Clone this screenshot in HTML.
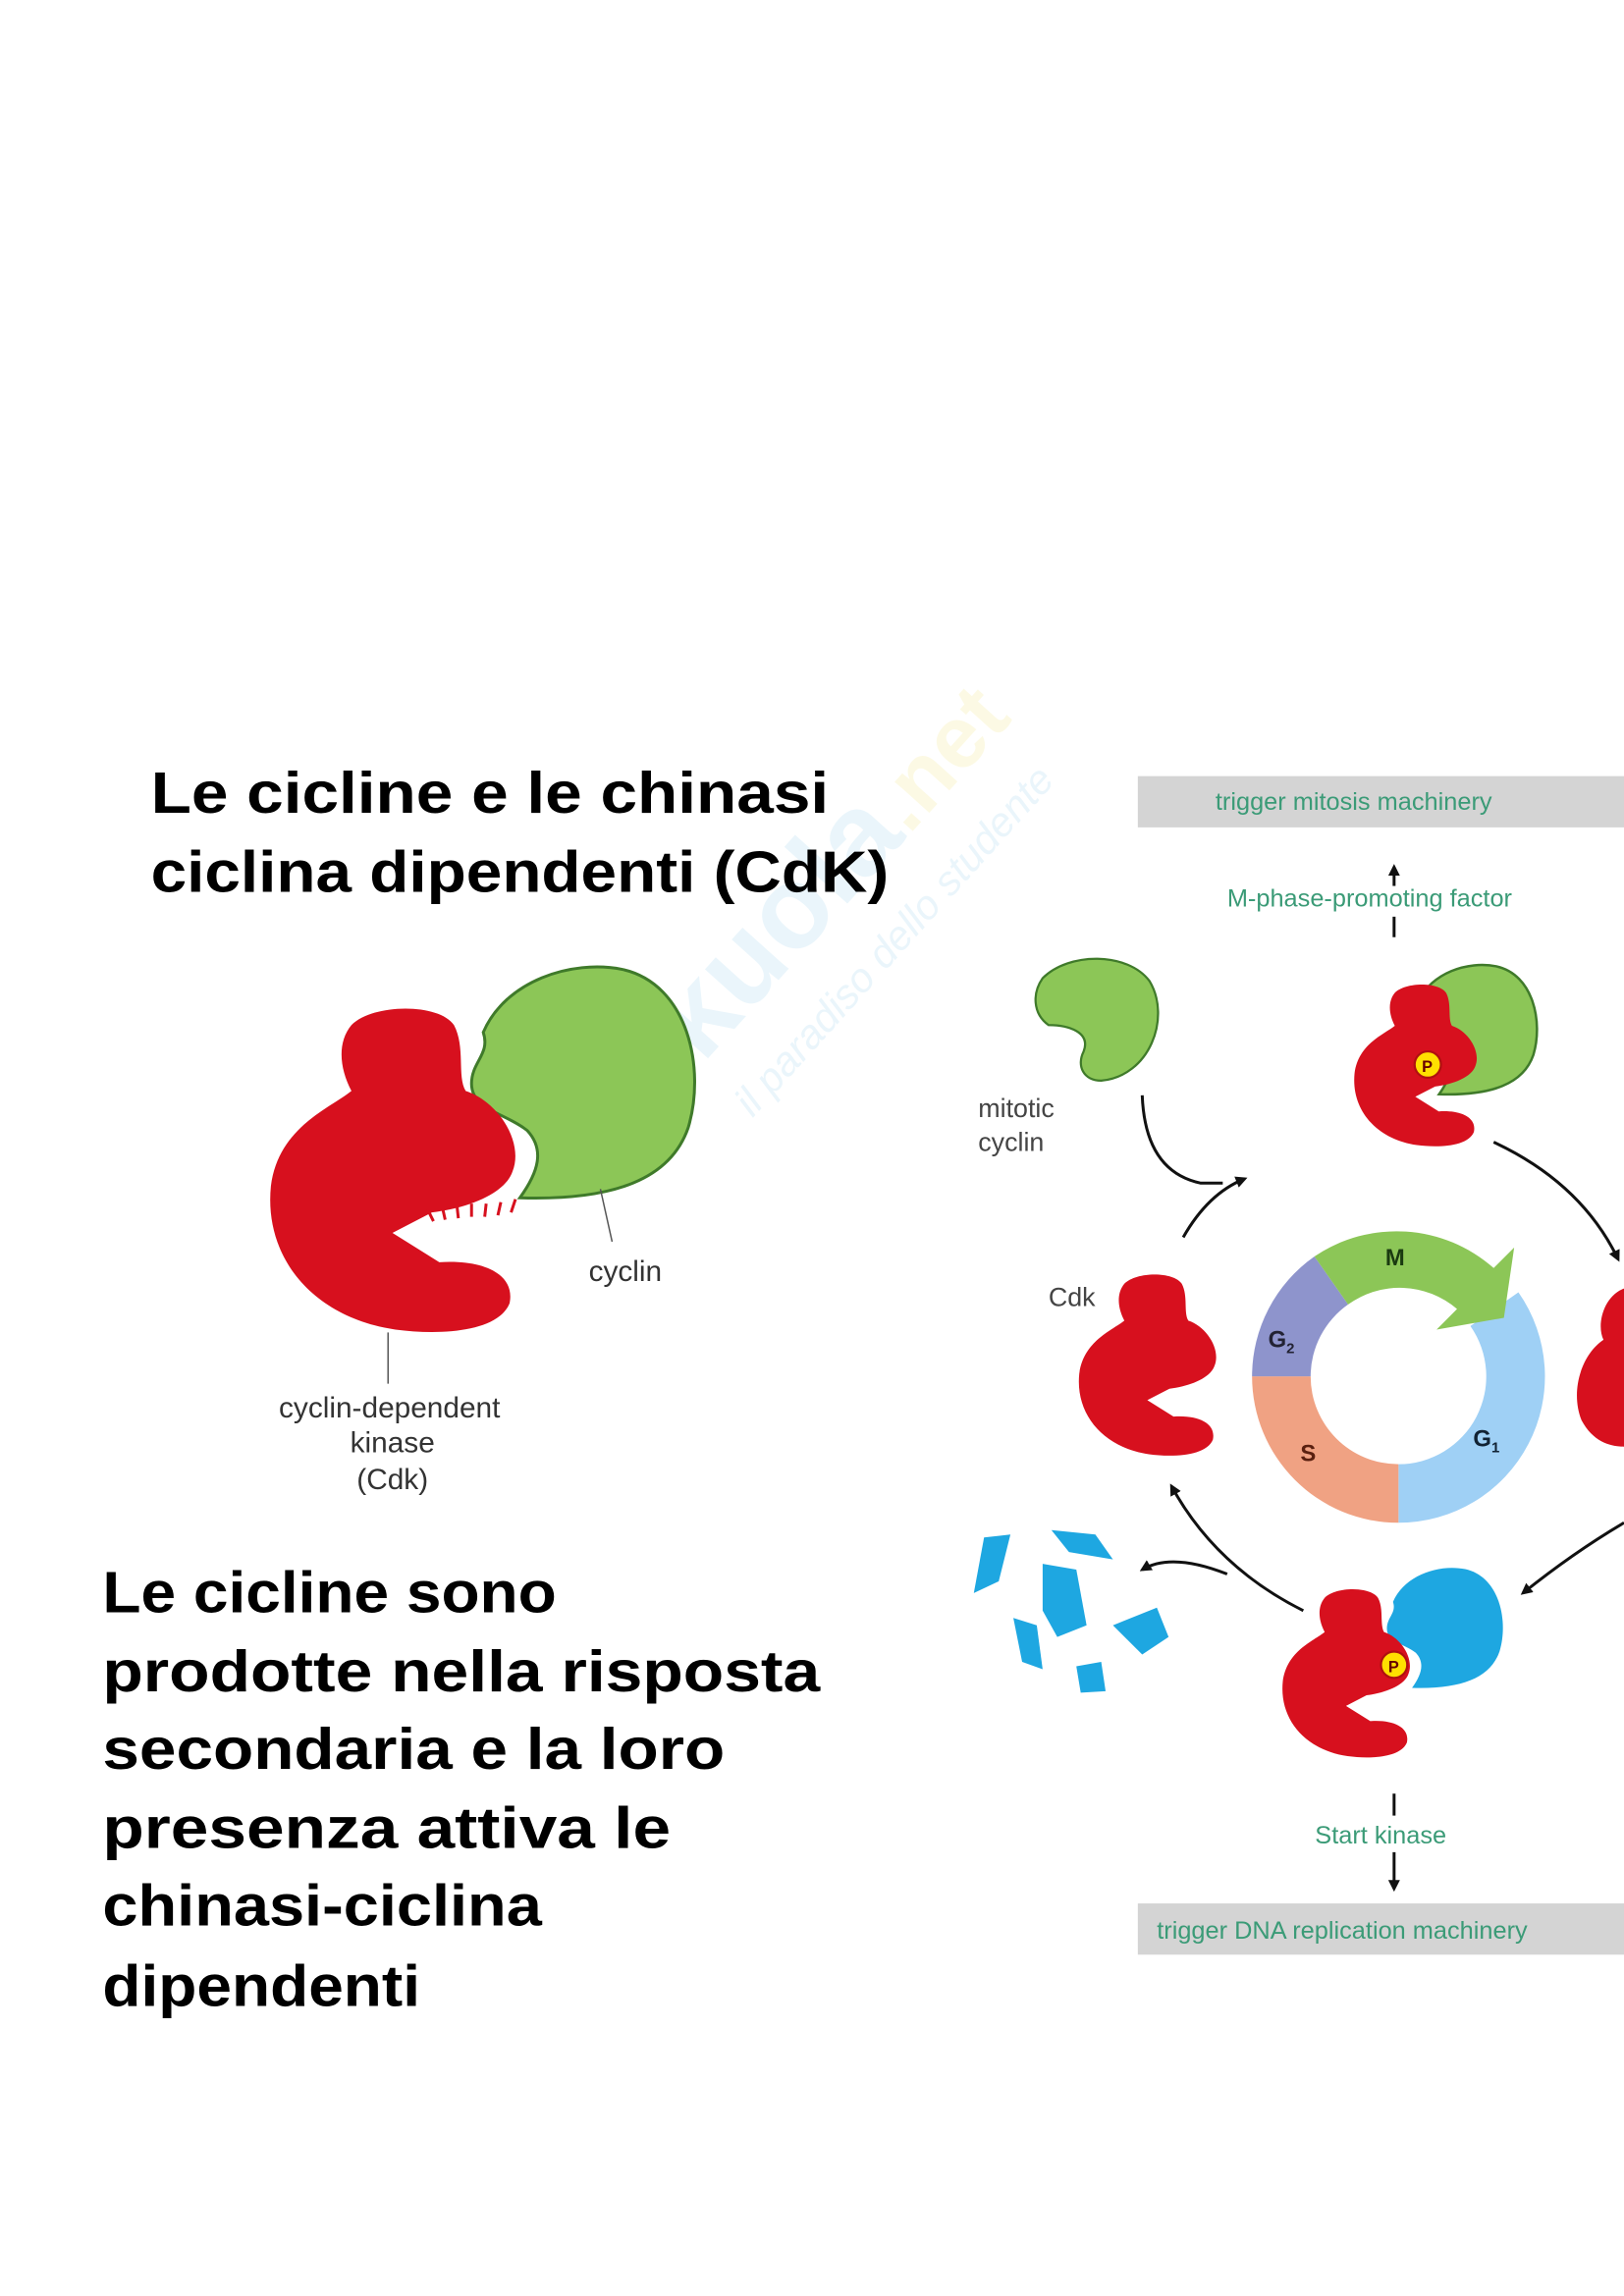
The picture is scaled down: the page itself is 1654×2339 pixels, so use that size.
<!DOCTYPE html>
<html><head><meta charset="utf-8">
<style>
html,body{margin:0;padding:0;background:#fff;}
svg{display:block;}
</style></head>
<body>
<svg width="1654" height="2339" viewBox="0 0 1109 1568" xmlns="http://www.w3.org/2000/svg">
<defs>
<marker id="ah" markerWidth="8" markerHeight="8" refX="6" refY="4" orient="auto" markerUnits="userSpaceOnUse">
<path d="M0,0 L8,4 L0,8 Z" fill="#111"/></marker>
<path id="cdk" d="M240 700 C255 685,300 685,310 700 C318 715,312 735,318 745 C340 752,358 780,350 800 C345 815,320 825,295 828 L268 842 L300 862 C330 860,352 870,348 890 C340 910,300 912,270 908 C215 900,180 860,185 810 C190 770,225 757,240 745 C232 730,230 712,240 700 Z"/>
<path id="cyc" d="M330 705 C345 670,390 655,425 662 C470 672,482 730,470 770 C458 805,420 820,355 818 C368 800,372 785,360 772 C345 760,322 758,322 740 C322 725,335 720,330 705 Z"/>
</defs>

<!-- watermark -->
<g transform="translate(450,760) rotate(-48)" opacity="0.16">
<text x="0" y="0" font-family="Liberation Sans, sans-serif" font-size="80" font-weight="bold" fill="#7fc6e8">skuola</text>
<text x="255" y="0" font-family="Liberation Sans, sans-serif" font-size="60" font-weight="bold" fill="#f0e060">.net</text>
<text x="40" y="50" font-family="Liberation Sans, sans-serif" font-size="28" font-style="italic" fill="#7fc6e8">il paradiso dello studente</text>
</g>

<!-- Titles -->
<g font-family="Liberation Sans, sans-serif" font-weight="bold" fill="#000">
<text x="103" y="555" font-size="40" textLength="463" lengthAdjust="spacingAndGlyphs">Le cicline e le chinasi</text>
<text x="103" y="609" font-size="40" textLength="504" lengthAdjust="spacingAndGlyphs">ciclina dipendenti (CdK)</text>
<text x="70" y="1101" font-size="40" textLength="310" lengthAdjust="spacingAndGlyphs">Le cicline sono</text>
<text x="70" y="1155" font-size="40" textLength="490" lengthAdjust="spacingAndGlyphs">prodotte nella risposta</text>
<text x="70" y="1208" font-size="40" textLength="425" lengthAdjust="spacingAndGlyphs">secondaria e la loro</text>
<text x="70" y="1262" font-size="40" textLength="388" lengthAdjust="spacingAndGlyphs">presenza attiva le</text>
<text x="70" y="1315" font-size="40" textLength="300" lengthAdjust="spacingAndGlyphs">chinasi-ciclina</text>
<text x="70" y="1370" font-size="40" textLength="217" lengthAdjust="spacingAndGlyphs">dipendenti</text>
</g>

<!-- Left diagram -->
<use href="#cyc" fill="#8cc657" stroke="#3f7a2a" stroke-width="2"/>
<use href="#cdk" fill="#d7101e"/>
<g stroke="#d7101e" stroke-width="2">
<line x1="292" y1="826" x2="296" y2="834"/><line x1="302" y1="824" x2="304" y2="833"/><line x1="312" y1="823" x2="313" y2="832"/><line x1="322" y1="822" x2="322" y2="831"/><line x1="332" y1="822" x2="331" y2="831"/><line x1="342" y1="821" x2="340" y2="830"/><line x1="352" y1="819" x2="349" y2="828"/>
</g>
<line x1="410" y1="812" x2="418" y2="848" stroke="#555" stroke-width="1"/>
<line x1="265" y1="910" x2="265" y2="945" stroke="#555" stroke-width="1"/>
<g font-family="Liberation Sans, sans-serif" font-size="20" fill="#333" text-anchor="middle">
<text x="427" y="875">cyclin</text>
<text x="266" y="968">cyclin-dependent</text>
<text x="268" y="992">kinase</text>
<text x="268" y="1017">(Cdk)</text>
</g>

<!-- Right diagram bars -->
<rect x="777" y="530" width="332" height="35" fill="#d4d4d4"/>
<rect x="777" y="1300" width="332" height="35" fill="#d4d4d4"/>
<g font-family="Liberation Sans, sans-serif" font-size="17" fill="#3b9b77">
<text x="830" y="553">trigger mitosis machinery</text>
<text x="838" y="619">M-phase-promoting factor</text>
<text x="898" y="1259">Start kinase</text>
<text x="790" y="1324">trigger DNA replication machinery</text>
</g>
<g stroke="#111" stroke-width="2" fill="none">
<line x1="952" y1="605" x2="952" y2="592" marker-end="url(#ah)"/>
<line x1="952" y1="626" x2="952" y2="640"/>
<line x1="952" y1="1225" x2="952" y2="1240"/>
<line x1="952" y1="1265" x2="952" y2="1290" marker-end="url(#ah)"/>
<path d="M808 845 Q825 815 850 805" marker-end="url(#ah)"/>
<path d="M780 748 Q782 800 820 808 L835 808"/>
<path d="M1020 780 Q1080 808 1105 860" marker-end="url(#ah)"/>
<path d="M890 1100 Q830 1070 800 1015" marker-end="url(#ah)"/>
<path d="M1109 1040 Q1075 1060 1040 1088" marker-end="url(#ah)"/>
<path d="M838 1075 Q800 1060 780 1072" marker-end="url(#ah)"/>
</g>
<g font-family="Liberation Sans, sans-serif" font-size="18" fill="#444">
<text x="668" y="763">mitotic</text>
<text x="668" y="786">cyclin</text>
<text x="716" y="892">Cdk</text>
</g>

<!-- Ring -->
<path d="M1036.9 882.6 A100 100 0 0 1 955 1040 L955 1000 A60 60 0 0 0 1004.1 905.6 Z" fill="#9fd0f5"/>
<path d="M955 1040 A100 100 0 0 1 855 940 L895 940 A60 60 0 0 0 955 1000 Z" fill="#f0a283"/>
<path d="M855 940 A100 100 0 0 1 897.6 858.1 L920.6 890.9 A60 60 0 0 0 895 940 Z" fill="#8e94cc"/>
<path d="M897.6 858.1 A100 100 0 0 1 1020 866 L1034 852 L1027 900 L981 908 L995 894 A60 60 0 0 0 920.6 890.9 Z" fill="#8cc657"/>
<g font-family="Liberation Sans, sans-serif" font-size="16" font-weight="bold">
<text x="946" y="864" fill="#1a3a10">M</text>
<text x="866" y="920" fill="#223">G<tspan font-size="10" dy="4">2</tspan></text>
<text x="888" y="998" fill="#5a2010">S</text>
<text x="1006" y="988" fill="#123">G<tspan font-size="10" dy="4">1</tspan></text>
</g>

<!-- Free mitotic cyclin -->
<path d="M712 668 C730 650,770 650,785 670 C800 695,785 735,752 738 C740 738,735 728,740 718 C745 705,730 700,716 700 C705 692,705 678,712 668 Z" fill="#8cc657" stroke="#3f7a2a" stroke-width="1.5"/>

<!-- Free Cdk left -->
<use href="#cdk" fill="#d7101e" transform="translate(737,870) scale(0.56) translate(-185,-688)"/>

<!-- Top complex -->
<use href="#cyc" fill="#8cc657" stroke="#3f7a2a" stroke-width="3" transform="translate(962,656) scale(0.56) translate(-318,-655)"/>
<use href="#cdk" fill="#d7101e" transform="translate(925,672) scale(0.5) translate(-185,-688)"/>
<circle cx="975" cy="727" r="9" fill="#ffe000" stroke="#b01010" stroke-width="1.5"/>
<text x="971" y="732" font-family="Liberation Sans, sans-serif" font-size="11" font-weight="bold" fill="#600">P</text>

<!-- Right partial Cdk -->
<path d="M1109 880 C1095 885,1090 905,1095 915 C1080 925,1072 950,1080 970 C1088 985,1100 988,1109 988 Z" fill="#d7101e"/>

<!-- Bottom complex -->
<use href="#cyc" fill="#1ea7e1" transform="translate(945,1068) scale(0.52) translate(-318,-655)"/>
<use href="#cdk" fill="#d7101e" transform="translate(876,1085) scale(0.52) translate(-185,-688)"/>
<circle cx="952" cy="1137" r="9" fill="#ffe000" stroke="#b01010" stroke-width="1.5"/>
<text x="948" y="1142" font-family="Liberation Sans, sans-serif" font-size="11" font-weight="bold" fill="#600">P</text>

<!-- Blue fragments -->
<g fill="#1ea7e1">
<path d="M672 1050 L690 1048 L682 1080 L665 1088 Z"/>
<path d="M718 1045 L748 1048 L760 1065 L730 1060 Z"/>
<path d="M712 1068 L735 1072 L742 1110 L722 1118 L712 1100 Z"/>
<path d="M692 1105 L708 1110 L712 1140 L698 1135 Z"/>
<path d="M760 1110 L790 1098 L798 1118 L780 1130 Z"/>
<path d="M735 1138 L752 1135 L755 1155 L738 1156 Z"/>
</g>
</svg>
</body></html>
